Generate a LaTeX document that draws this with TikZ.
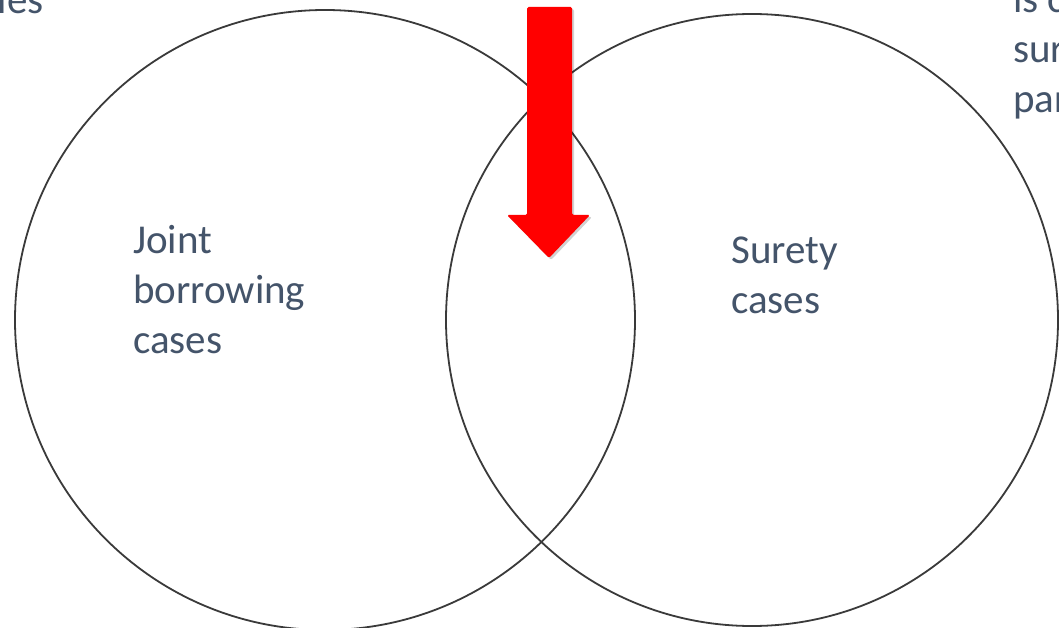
\documentclass[tikz,border=0pt]{standalone}
\usepackage{fontspec}
\setmainfont{Carlito}
\definecolor{txt}{HTML}{44546A}
\definecolor{ring}{HTML}{3A3A3A}
\begin{document}
\begin{tikzpicture}[x=1pt,y=-1pt,
  ringnode/.style={circle,draw=ring,line width=1.8pt,inner sep=0pt},
  label/.style={text=txt,font=\fontsize{41}{50}\selectfont,inner sep=0pt,align=left},
  redarrow/.style={fill=red,draw=none,rounded corners=1.5pt}]
\useasboundingbox (0,0) rectangle (1059,628);
\clip (0,0) rectangle (1059,628);
\fill[white] (0,0) rectangle (1059,628);
\node[ringnode,minimum size=620pt] (left) at (325,320) {};
\node[ringnode,minimum size=612pt] (right) at (752,320) {};
\node[label,anchor=base west] (joint) at (133,353) {Joint\\borrowing\\cases};
\node[label,anchor=base west] (surety) at (731,313) {Surety\\cases};
\node[label,anchor=base east] (ies) at (44,14) {ies};
\node[label,anchor=base west] (iscsur) at (1013,113) {is c\\sur\\par};
\fill[black,opacity=0.18,rounded corners=2pt,xshift=2pt,yshift=-2pt]
  (527,7) -- (572,7) -- (572,215) -- (590,215) -- (549,258) -- (507,215) -- (527,215) -- cycle;
\fill[redarrow]
  (527,7) -- (572,7) -- (572,215) -- (590,215) -- (549,258) -- (507,215) -- (527,215) -- cycle;
\end{tikzpicture}
\end{document}
